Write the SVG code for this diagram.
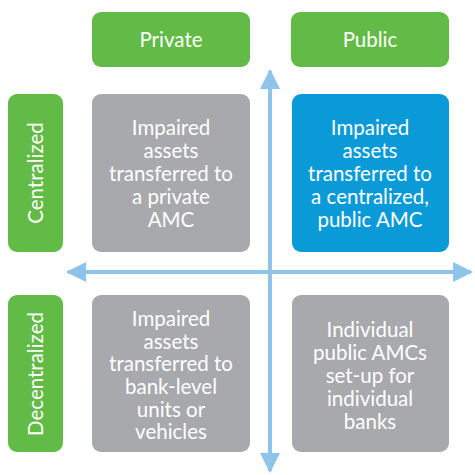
<svg xmlns="http://www.w3.org/2000/svg" width="475" height="475" viewBox="0 0 475 475">
<style>
.g{fill:#62bb46}
.gr{fill:#a7a9ac}
.bl{fill:#0a9ad8}
text{font-family:Lato,"Open Sans",sans-serif;fill:#fff;text-anchor:middle}
.h{font-size:20.5px}
.b{font-size:20.5px}
.ax{stroke:#8ec4ea;stroke-width:4;fill:none}
</style>
<defs>
<marker id="ah" viewBox="0 0 10 10" refX="9" refY="5" markerWidth="5" markerHeight="5" markerUnits="strokeWidth" orient="auto">
<path d="M0,0 L10,5 L0,10 Z" fill="#8ec4ea"/>
</marker>
</defs>
<g id="hdr-private"><rect class="g" x="92" y="12" width="158" height="55" rx="9"/><text class="h" x="171" y="47">Private</text></g>
<g id="hdr-public"><rect class="g" x="291" y="12" width="158" height="55" rx="9"/><text class="h" x="370" y="47">Public</text></g>
<g id="hdr-centralized"><rect class="g" x="8" y="94" width="55" height="158" rx="9"/><text class="h" transform="translate(43,173) rotate(-90)">Centralized</text></g>
<g id="hdr-decentralized"><rect class="g" x="8" y="295" width="55" height="157" rx="9"/><text class="h" transform="translate(43,374) rotate(-90)">Decentralized</text></g>
<g id="box-priv-cent"><rect class="gr" x="92" y="94" width="158" height="158" rx="9"/>
<text class="b" x="171"><tspan x="171" y="135">Impaired</tspan><tspan x="171" y="158">assets</tspan><tspan x="171" y="181">transferred to</tspan><tspan x="171" y="204">a private</tspan><tspan x="171" y="227">AMC</tspan></text></g>
<g id="box-pub-cent"><rect class="bl" x="292" y="94" width="157" height="158" rx="9"/>
<text class="b" x="370"><tspan x="370" y="135">Impaired</tspan><tspan x="370" y="158">assets</tspan><tspan x="370" y="181">transferred to</tspan><tspan x="370" y="204">a centralized,</tspan><tspan x="370" y="227">public AMC</tspan></text></g>
<g id="box-priv-dec"><rect class="gr" x="92" y="295" width="158" height="157" rx="9"/>
<text class="b" x="171"><tspan x="171" y="326">Impaired</tspan><tspan x="171" y="349">assets</tspan><tspan x="171" y="371">transferred to</tspan><tspan x="171" y="394">bank-level</tspan><tspan x="171" y="417">units or</tspan><tspan x="171" y="439">vehicles</tspan></text></g>
<g id="box-pub-dec"><rect class="gr" x="292" y="295" width="157" height="157" rx="9"/>
<text class="b" x="370"><tspan x="370" y="337">Individual</tspan><tspan x="370" y="360">public AMCs</tspan><tspan x="370" y="383">set-up for</tspan><tspan x="370" y="406">individual</tspan><tspan x="370" y="429">banks</tspan></text></g>
<g id="connectors">
<line class="ax" x1="270" y1="270" x2="270" y2="71" marker-end="url(#ah)"/>
<line class="ax" x1="270" y1="270" x2="270" y2="471" marker-end="url(#ah)"/>
<line class="ax" x1="270" y1="272" x2="68" y2="272" marker-end="url(#ah)"/>
<line class="ax" x1="270" y1="272" x2="471" y2="272" marker-end="url(#ah)"/>
</g>
</svg>
